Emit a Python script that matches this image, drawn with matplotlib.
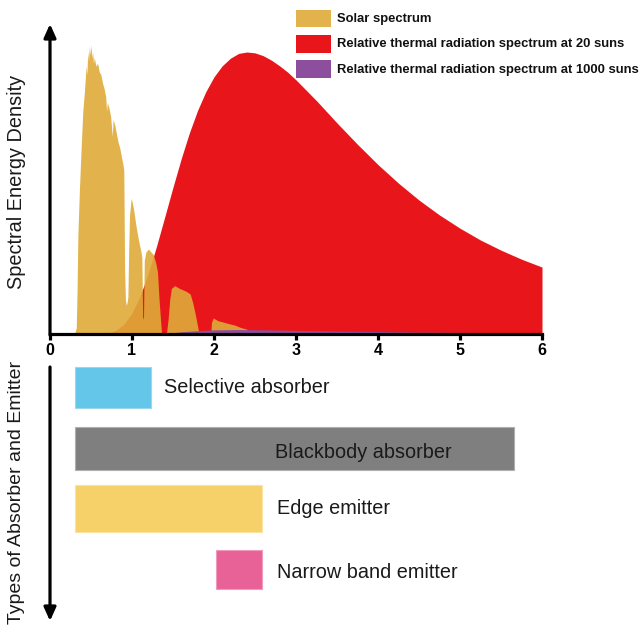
import matplotlib
matplotlib.use('Agg')
import matplotlib.pyplot as plt
from matplotlib.patches import Rectangle
import numpy as np

plt.rcParams['font.family'] = ['Liberation Sans', 'DejaVu Sans']

# ---------------- data ----------------
solar_wl = [0.30, 0.32, 0.33, 0.34, 0.36, 0.38, 0.40, 0.42, 0.44, 0.45, 0.46, 0.47, 0.48,
            0.49, 0.50, 0.51, 0.52, 0.53, 0.54, 0.56, 0.58, 0.60, 0.62, 0.64, 0.66, 0.68,
            0.69, 0.70, 0.72, 0.74, 0.76, 0.77, 0.79, 0.81, 0.83, 0.85, 0.87, 0.89, 0.90,
            0.91, 0.92, 0.93, 0.94, 0.95, 0.96, 0.97, 0.99, 1.00, 1.02, 1.05, 1.08, 1.11,
            1.12, 1.13, 1.14, 1.15, 1.17, 1.20, 1.23, 1.26, 1.29, 1.31, 1.33, 1.35, 1.36,
            1.42, 1.44, 1.46, 1.48, 1.50, 1.52, 1.55, 1.58, 1.62, 1.66, 1.71, 1.74, 1.77,
            1.79, 1.81, 1.82, 1.96, 1.97, 1.99, 2.02, 2.05, 2.08, 2.12, 2.18, 2.25, 2.32,
            2.40, 2.45]
solar_val = [0.00, 0.02, 0.15, 0.35, 0.52, 0.66, 0.79, 0.86, 0.95, 0.92, 1.00, 0.97, 1.02,
             0.99, 1.025, 0.98, 1.00, 0.96, 0.98, 0.95, 0.96, 0.93, 0.92, 0.89, 0.87, 0.84,
             0.79, 0.82, 0.80, 0.77, 0.70, 0.76, 0.74, 0.71, 0.68, 0.66, 0.63, 0.60, 0.58,
             0.22, 0.12, 0.10, 0.11, 0.13, 0.30, 0.42, 0.48, 0.47, 0.44, 0.38, 0.33, 0.29,
             0.27, 0.06, 0.05, 0.26, 0.29, 0.30, 0.29, 0.28, 0.25, 0.22, 0.12, 0.04, 0.00,
             0.00, 0.05, 0.12, 0.16, 0.165, 0.17, 0.165, 0.16, 0.155, 0.15, 0.14, 0.11, 0.07,
             0.04, 0.01, 0.00, 0.00, 0.04, 0.055, 0.05, 0.045, 0.043, 0.04, 0.035, 0.03, 0.022,
             0.015, 0.00]

thermal20_wl = [0.70, 0.80, 0.90, 1.00, 1.10, 1.20, 1.30, 1.40, 1.50, 1.60, 1.70, 1.80,
                1.90, 2.00, 2.10, 2.20, 2.30, 2.40, 2.50, 2.60, 2.70, 2.80, 2.90, 3.00,
                3.25, 3.50, 3.75, 4.00, 4.25, 4.50, 4.75, 5.00, 5.25, 5.50, 5.75, 6.00]
thermal20_val = [0.000, 0.011, 0.033, 0.073, 0.134, 0.215, 0.311, 0.415, 0.520, 0.621,
                 0.713, 0.793, 0.859, 0.912, 0.951, 0.978, 0.995, 1.000, 0.997, 0.987,
                 0.971, 0.951, 0.928, 0.901, 0.827, 0.748, 0.672, 0.600, 0.534, 0.474,
                 0.421, 0.374, 0.332, 0.296, 0.264, 0.236]

thermal1000_wl = [1.40, 1.60, 1.80, 2.00, 2.30, 2.60, 3.00, 3.50, 4.00, 4.50, 5.00, 5.50, 6.00]
thermal1000_val = [0.000, 0.006, 0.010, 0.013, 0.014, 0.013, 0.011, 0.009, 0.007, 0.005,
                   0.004, 0.003, 0.002]

x_ticks = [0, 1, 2, 3, 4, 5, 6]
legend_labels = ["Solar spectrum",
                 "Relative thermal radiation spectrum at 20 suns",
                 "Relative thermal radiation spectrum at 1000 suns"]

device_names = ["Selective absorber", "Blackbody absorber", "Edge emitter", "Narrow band emitter"]
device_start = [0.30, 0.30, 0.30, 2.02]
device_end = [1.23, 5.66, 2.59, 2.59]

# ---------------- styles / layout ----------------
SOLAR = '#DFAB38'
SOLAR_LEG = '#E2B34C'
RED = '#E8161B'
PURPLE = '#8E4E9E'
dev_colors = ['#64C6E8', '#7F7F7F', '#F6D169', '#E96297']
dev_edges = ['#9AD8EE', '#B0B0B0', '#FAE3A0', '#F29ABD']
dev_heights = [0.675, 0.71, 0.77, 0.64]
label_x = [1.39, 2.74, 2.77, 2.77]
label_dy = [0.0, 0.07, 0.0, 0.05]

W, H = 643, 628
fig = plt.figure(figsize=(W / 100, H / 100), dpi=100)


def box(x0, y0, x1, y1):
    return [x0 / W, 1 - y1 / H, (x1 - x0) / W, (y1 - y0) / H]


# top spectrum axes
ax = fig.add_axes(box(50, 25, 542, 333.5))
ax.fill_between(thermal20_wl, thermal20_val, color=RED, lw=0, zorder=1)
ax.fill_between(solar_wl, solar_val, color=SOLAR, alpha=0.9, lw=0, zorder=2)
ax.fill_between(thermal1000_wl, thermal1000_val, color=PURPLE, lw=0, zorder=3)
ax.set_xlim(0, 6)
ax.set_ylim(0, 1.096)
for s in ['top', 'right', 'left']:
    ax.spines[s].set_visible(False)
ax.spines['bottom'].set_linewidth(2.3)
ax.spines['bottom'].set_zorder(5)
ax.set_xticks(x_ticks)
ax.set_xticklabels([str(t) for t in x_ticks], fontweight='bold')
ax.tick_params(axis='x', direction='out', length=4, width=2.3, labelsize=11.5, pad=2.5)
ax.set_yticks([])
ax.patch.set_visible(False)

# bottom device axes
ax2 = fig.add_axes(box(50, 357.2, 542, 605.9))
ax2.set_xlim(0, 6)
ax2.set_ylim(3.6, -0.5)
ax2.axis('off')
rows = np.arange(len(device_names))
widths = np.array(device_end) - np.array(device_start)
ax2.barh(rows, widths, left=device_start, height=dev_heights, color=dev_colors,
         edgecolor=dev_edges, linewidth=0.8)
for r, name, lx, dy in zip(rows, device_names, label_x, label_dy):
    ax2.text(lx, r + dy, name, ha='left', va='center', fontsize=14.3, color='#1a1a1a')

# overlay for arrows, axis titles and legend
ov = fig.add_axes([0, 0, 1, 1])
ov.set_xlim(0, W)
ov.set_ylim(H, 0)
ov.axis('off')
ov.patch.set_visible(False)
ov.annotate('', xy=(50, 24), xytext=(50, 335),
            arrowprops=dict(arrowstyle='-|>,head_width=0.36,head_length=0.8', lw=2.3,
                            color='black', shrinkA=0, shrinkB=0, mutation_scale=10))
ov.annotate('', xy=(50, 621), xytext=(50, 367),
            arrowprops=dict(arrowstyle='-|>,head_width=0.36,head_length=0.8', lw=2.3,
                            color='black', shrinkA=0, shrinkB=0, mutation_scale=10))
ov.text(17, 182, 'Spectral Energy Density', rotation=90, ha='center', va='center',
        fontsize=14.3, color='#1a1a1a')
ov.text(17, 492, 'Types of Absorber and Emitter', rotation=90, ha='center', va='center',
        fontsize=14.0, color='#1a1a1a')

leg_rows = [(10, 27), (35, 53), (60, 78)]
for (y0, y1), c, lab in zip(leg_rows, [SOLAR_LEG, RED, PURPLE], legend_labels):
    ov.add_patch(Rectangle((296, y0), 35, y1 - y0, facecolor=c, edgecolor='none'))
    ov.text(337, (y0 + y1) / 2 + 0.5, lab, fontweight='bold', fontsize=9.35,
            ha='left', va='center', color='#111111')

fig.savefig('out.png', dpi=100)
